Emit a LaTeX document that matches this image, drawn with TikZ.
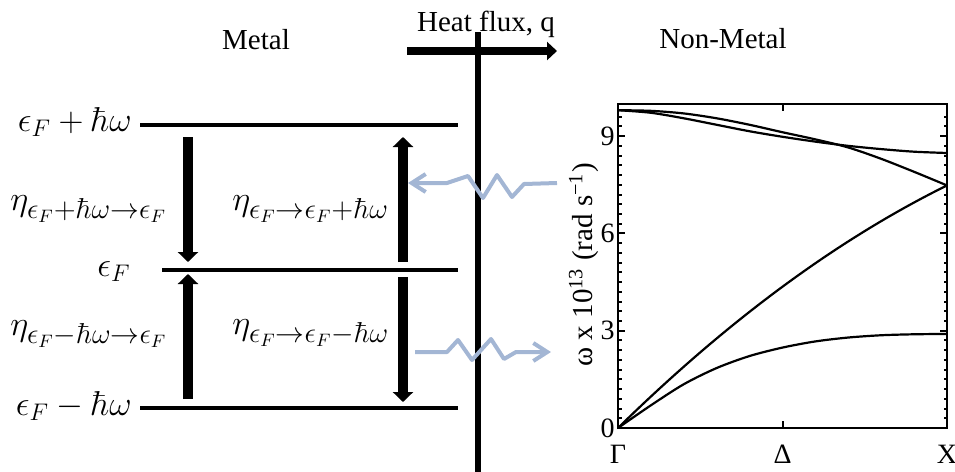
\documentclass[tikz,border=0pt]{standalone}
\usepackage[no-math]{fontspec}
\setmainfont{Liberation Serif}
\usepackage{amsmath}
\usetikzlibrary{arrows.meta,positioning}
\definecolor{wavecol}{RGB}{163,182,212}

\begin{document}
\begin{tikzpicture}[
  x=0.5pt, y=-0.5pt,
  lvl/.style={line width=1.8pt},
  lvlab/.style={font=\fontsize{18}{21}\selectfont, inner sep=0pt, anchor=base east},
  rate/.style={font=\fontsize{19}{23}\selectfont, inner sep=0pt, anchor=base west},
  txt/.style={font=\fontsize{14.5}{17}\selectfont, inner sep=0pt},
  ticklab/.style={font=\fontsize{14}{17}\selectfont, inner sep=0pt},
  fat/.style={-{Triangle[length=5pt, width=10pt]}, line width=5pt},
  wave/.style={-{Straight Barb[length=7pt, width=9pt]}, line width=2pt, wavecol, line join=round},
  band/.style={line width=1.1pt, line join=round},
  tick/.style={line width=1pt}
]
\useasboundingbox (0,0) rectangle (955,472);

% energy levels
\node[lvlab] (lvtop) at (132,131) {$\epsilon_F+\hbar\omega$};
\node[lvlab] (lvmid) at (131,276) {$\epsilon_F$};
\node[lvlab] (lvbot) at (132,415) {$\epsilon_F-\hbar\omega$};
\draw[lvl] (140,125) -- (458,125);
\draw[lvl] (162,270) -- (458,270);
\draw[lvl] (140,408) -- (458,408);

\coordinate (dtop) at (188,137);
\coordinate (dmid) at (188,262);
\coordinate (ubot) at (188,399);
\coordinate (umid) at (188,274);
\coordinate (rmida) at (403,262);
\coordinate (rtop) at (403,137);
\coordinate (rmidb) at (403,277);
\coordinate (rbot) at (403,402);
\draw[fat] (dtop) -- (dmid);
\draw[fat] (ubot) -- (umid);
\draw[fat] (rmida) -- (rtop);
\draw[fat] (rmidb) -- (rbot);

\node[rate] (rdown) at (10,210) {$\eta_{\epsilon_F+\hbar\omega\rightarrow\epsilon_F}$};
\node[rate] (rup) at (232,210) {$\eta_{\epsilon_F\rightarrow\epsilon_F+\hbar\omega}$};
\node[rate] (rupb) at (10,335) {$\eta_{\epsilon_F-\hbar\omega\rightarrow\epsilon_F}$};
\node[rate] (rdownb) at (232,334) {$\eta_{\epsilon_F\rightarrow\epsilon_F-\hbar\omega}$};

% interface and heat flux
\node[txt, anchor=base] (metal) at (256,49) {Metal};
\node[txt, anchor=base] (nonmetal) at (723,48) {Non-Metal};
\node[txt, anchor=base] (flux) at (486,31) {Heat flux, q};
\coordinate (wtop) at (478,32);
\coordinate (wbot) at (478,472);
\draw[line width=3pt] (wtop) -- (wbot);
\coordinate (qa) at (407,51);
\coordinate (qb) at (557,51);
\draw[-{Triangle[length=5pt, width=9pt]}, line width=4pt] (qa) -- (qb);

% phonons
\coordinate (pha) at (557,183);
\coordinate (phb) at (408,183);
\draw[wave] (pha) -- (524,184) -- (512,197) -- (497,175) -- (483,198) -- (468,176) -- (447,183) -- (phb);
\coordinate (phc) at (415,352);
\coordinate (phd) at (551,352);
\draw[wave] (phc) -- (447,352) -- (458,340) -- (472,360) -- (491,339) -- (504,359) -- (516,352) -- (phd);

% dispersion
\begin{scope}[shift={(618,428)}, x=164.5pt, y=16.215pt]
  \draw[line width=1pt] (0,0) rectangle (1,10);
  \foreach \v in {0,3,6,9} {
    \draw[tick] (0,\v) -- ++(3.5pt,0);
    \draw[tick] (1,\v) -- ++(-3.5pt,0);
    \node[ticklab, anchor=east] at (0,\v) [xshift=-1.5pt] {\v};
  }
  \foreach \v in {0.3,0.6,...,9.9} {
    \draw[tick] (0,\v) -- ++(1.75pt,0);
    \draw[tick] (1,\v) -- ++(-1.75pt,0);
  }
  \draw[tick] (0.5,0) -- ++(0,3.5pt);
  \draw[tick] (0.5,10) -- ++(0,-3.5pt);
  \node[ticklab] (gam) at (0,0) [yshift=-13pt] {Γ};
  \node[ticklab] (del) at (0.5,0) [yshift=-13pt] {Δ};
  \node[ticklab] (xpt) at (1,0) [yshift=-13pt] {X};
  \node[txt, rotate=90] (ylab) at (-0.1033,5.03) {ω x 10\textsuperscript{13} (rad s\textsuperscript{−1})};
  \draw[band] plot[smooth] coordinates {(0,9.8) (0.1,9.78) (0.2,9.7) (0.3,9.55) (0.4,9.35) (0.5,9.12) (0.6,8.9) (0.7,8.65) (0.8,8.3) (0.9,7.9) (1,7.48)};
  \draw[band] plot[smooth] coordinates {(0,9.8) (0.1,9.72) (0.2,9.55) (0.3,9.35) (0.4,9.15) (0.5,8.98) (0.6,8.83) (0.7,8.7) (0.8,8.6) (0.9,8.52) (1,8.48)};
  \draw[band] plot[domain=0:1, samples=40] (\x, {7.48*\x*(1.33-0.33*\x)});
  \draw[band] plot[smooth] coordinates {(0,0) (0.1,0.7) (0.2,1.35) (0.3,1.85) (0.4,2.22) (0.5,2.48) (0.6,2.67) (0.7,2.79) (0.8,2.86) (0.9,2.89) (1,2.9)};
\end{scope}
\end{tikzpicture}
\end{document}
